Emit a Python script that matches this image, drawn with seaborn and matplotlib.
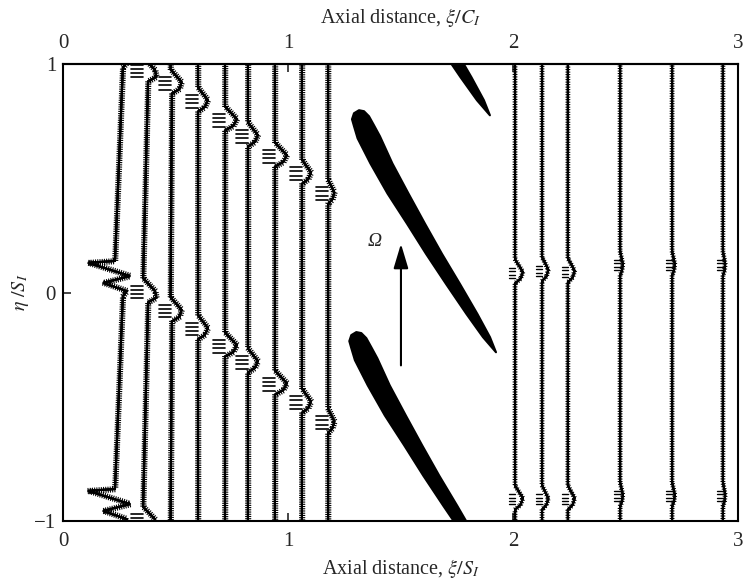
import numpy as np
import pandas as pd
import matplotlib
matplotlib.use("Agg")
import matplotlib.pyplot as plt
import matplotlib.patheffects as pe
import seaborn as sns

# ---------------- data ----------------
# traverse positions (xi/S_I) upstream group and downstream group
left_x = [0.262, 0.378, 0.484, 0.600, 0.720, 0.822, 0.942, 1.062, 1.178]
left_wake_up = [0.068, 0.969, 0.916, 0.837, 0.754, 0.684, 0.596, 0.521, 0.433]
left_wake_lo = [-0.930, 0.002, -0.081, -0.160, -0.235, -0.305, -0.402, -0.481, -0.569]
left_amp = [0.0, 0.053, 0.049, 0.044, 0.053, 0.044, 0.053, 0.040, 0.028]
left_lean = [-0.035, -0.022, -0.006, 0.0, 0.0, 0.0, 0.0, 0.0, 0.0]
left_zig = [True, False, False, False, False, False, False, False, False]

right_x = [2.009, 2.129, 2.244, 2.476, 2.707, 2.933]
right_wake_up = [0.085, 0.095, 0.090, 0.120, 0.120, 0.120]
right_wake_lo = [-0.905, -0.905, -0.905, -0.890, -0.890, -0.890]
right_amp = [0.035, 0.028, 0.030, 0.012, 0.012, 0.010]
right_lean = [0.0, 0.0, 0.0, 0.0, 0.0, 0.0]
right_zig = [False] * 6

# zig-zag wake of the first traverse (offsets from base x and wake centre)
zig_dx = [-0.031, -0.151, 0.036, -0.084, 0.022, 0.004]
zig_dy = [0.070, 0.062, 0.004, -0.026, -0.062, -0.084]

# wake bump outline (relative)
bump_dy = [0.060, 0.005, -0.025, -0.045]
bump_fx = [0.0, 1.0, 0.7, 0.0]
bump_lean = [1.0, 1.0, 0.0, 0.0]

# rotor blade section outline (xi/S_I, eta/S_I)
blade_x = [1.2933, 1.2844, 1.2933, 1.3156, 1.3378, 1.3600, 1.3822, 1.4089, 1.4640,
           1.5356, 1.6089, 1.6844, 1.7644, 1.8422, 1.8978, 1.9244, 1.8667, 1.7933,
           1.7022, 1.6133, 1.5289, 1.4422, 1.3662, 1.3093]
blade_y = [0.7275, 0.7582, 0.7846, 0.7978, 0.7934, 0.7714, 0.7319, 0.6835, 0.5648,
           0.4330, 0.3011, 0.1692, 0.0374, -0.0945, -0.1956, -0.2615, -0.1956, -0.0945,
           0.0374, 0.1692, 0.3011, 0.4330, 0.5648, 0.6747]
blade_shift_x = [0.0, -0.012, -0.027]
blade_shift_y = [0.0, -0.971, 1.037]

arrow_x = 1.502
arrow_y0, arrow_y1 = -0.319, 0.213

PITCH = 1.0

# ---------------- style ----------------
sns.set_style("ticks")
plt.rcParams["font.family"] = ["Liberation Serif", "DejaVu Serif"]
plt.rcParams["mathtext.fontset"] = "stix"
plt.rcParams["axes.unicode_minus"] = True

fig = plt.figure(figsize=(7.45, 5.85), dpi=100)
ax = fig.add_axes([63 / 745, 64 / 585, 675 / 745, 457 / 585])


def build(xs, up, lo, amp, lean, zig, group, hatch_half):
    rows, hrows = [], []
    for i, x0 in enumerate(xs):
        uid = f"{group}{i}"
        centers = [up[i] + PITCH, up[i], lo[i], lo[i] - PITCH]
        k = 0
        for c in centers:
            if zig[i]:
                for dx, dy in zip(zig_dx, zig_dy):
                    rows.append((uid, k, x0 + dx, c + dy)); k += 1
            else:
                for fl, fx, dy in zip(bump_lean, bump_fx, bump_dy):
                    rows.append((uid, k, x0 + fl * lean[i] + fx * amp[i], c + dy)); k += 1
                if -1.0 < c < 1.0:
                    hid = f"{uid}h{c:.3f}"
                    hrows.append((hid, 0, x0 + lean[i], c - hatch_half))
                    hrows.append((hid, 1, x0 + lean[i], c + hatch_half))
    df = pd.DataFrame(rows, columns=["line", "order", "x", "y"])
    hdf = pd.DataFrame(hrows, columns=["line", "order", "x", "y"])
    return df, hdf


dfL, hL = build(left_x, left_wake_up, left_wake_lo, left_amp, left_lean, left_zig, "L", 0.035)
dfR, hR = build(right_x, right_wake_up, right_wake_lo, right_amp, right_lean, right_zig, "R", 0.03)


def draw(df, lw, effects):
    n0 = len(ax.lines)
    sns.lineplot(data=df, x="x", y="y", units="line", estimator=None, sort=False,
                 color="black", linewidth=lw, ax=ax, legend=False)
    for ln in ax.lines[n0:]:
        ln.set_path_effects(effects)
        ln.set_solid_joinstyle("miter")


draw(dfL, 1.5, [pe.withTickedStroke(angle=90, spacing=1.6, length=1.3, linewidth=0.8),
                pe.withTickedStroke(angle=-90, spacing=1.6, length=1.1, linewidth=0.8),
                pe.Normal()])
draw(dfR, 1.5, [pe.withTickedStroke(angle=90, spacing=1.8, length=0.8, linewidth=0.8),
                pe.withTickedStroke(angle=-90, spacing=1.8, length=0.8, linewidth=0.8),
                pe.Normal()])
draw(hL, 0.1, [pe.TickedStroke(angle=90, spacing=2.4, length=3.6, linewidth=1.2)])
draw(hR, 0.1, [pe.TickedStroke(angle=90, spacing=2.4, length=1.8, linewidth=1.0)])

# blades
for sx, sy in zip(blade_shift_x, blade_shift_y):
    ax.fill(np.array(blade_x) + sx, np.array(blade_y) + sy, facecolor="black",
            edgecolor="black", lw=1.5, joinstyle="round")

# rotation arrow
ax.annotate("", xy=(arrow_x, arrow_y1), xytext=(arrow_x, arrow_y0),
            arrowprops=dict(arrowstyle="-|>,head_length=1.0,head_width=0.3",
                            mutation_scale=15, lw=1.5, color="black",
                            shrinkA=0, shrinkB=0))
ax.text(1.387, 0.222, "Ω", fontsize=14, fontstyle="italic", ha="center", va="center")

# axes
ax.set_xlim(0, 3)
ax.set_ylim(-1, 1)
ax.set_xticks([0, 1, 2, 3])
ax.set_yticks([-1, 0, 1])
ax.set_xticklabels(["0", "1", "2", "3"])
ax.set_yticklabels(["\u22121", "0", "1"])
ax.tick_params(axis="x", direction="in", length=6, width=1.2, pad=8, labelsize=15)
ax.tick_params(axis="y", direction="in", length=6, width=1.2, pad=5, labelsize=15)
for s in ax.spines.values():
    s.set_linewidth(1.5)
    s.set_color("black")
ax.set_xlabel(r"Axial distance, $\xi/S_I$", fontsize=14.5, labelpad=4)
ax.set_ylabel(r"$\eta\ /S_I$", fontsize=14.5, labelpad=2)

sec = ax.secondary_xaxis("top")
sec.set_xticks([0, 1, 2, 3])
sec.set_xticklabels(["0", "1", "2", "3"])
sec.tick_params(direction="in", length=6, width=1.2, pad=8, labelsize=15)
sec.spines["top"].set_linewidth(1.5)
sec.set_xlabel(r"Axial distance, $\xi/C_I$", fontsize=14.5, labelpad=8)

fig.savefig("out.png", dpi=100)
